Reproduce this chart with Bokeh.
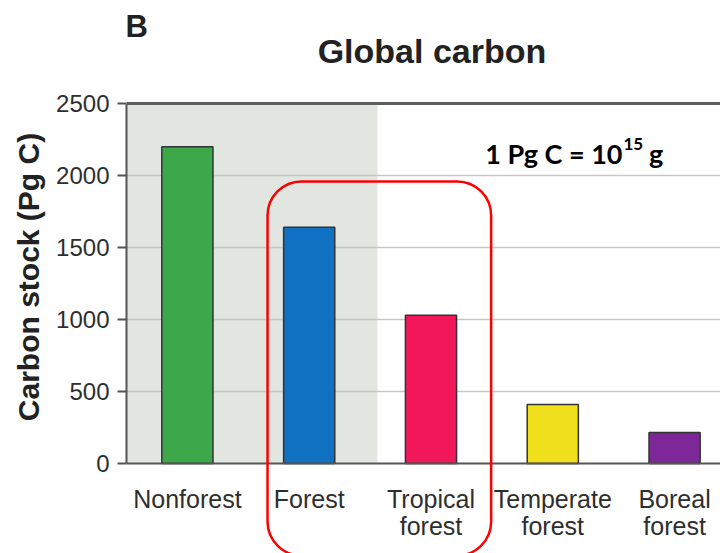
from bokeh.plotting import figure
from bokeh.models import BoxAnnotation, Label, LinearAxis, FixedTicker, Grid, Span
from bokeh.core.properties import value
from bokeh.embed import file_html
from bokeh.resources import INLINE

# Global carbon stocks (Pg C)
categories = ["Nonforest", "Forest", "Tropical\nforest", "Temperate\nforest", "Boreal\nforest"]
carbon_stock = [2200, 1640, 1030, 410, 215]
bar_colors = ["#3ca84a", "#1070c2", "#f2175b", "#f1e11c", "#7d2898"]
y_ticks = [0, 500, 1000, 1500, 2000, 2500]

positions = list(range(len(categories)))

SANS = "Liberation Sans"
NOTE_FONT = "Lato"
TEXT = "#2e2e2e"

# the frame fills the canvas right of the value axis; the value scale
# runs 0..2500 and the space above/below holds titles and category names
p = figure(width=720, height=553, title=None,
           x_range=(-0.5, 4.377), y_range=(-625, 3215),
           output_backend="svg", toolbar_location=None,
           min_border_left=126, min_border_right=0,
           min_border_top=0, min_border_bottom=0,
           x_axis_type=None, y_axis_type=None)
p.outline_line_color = None
p.background_fill_color = "white"
p.border_fill_color = "white"

# shaded backdrop behind the first two groups
p.add_layout(BoxAnnotation(left=-0.5, right=1.56, bottom=0, top=2500,
                           fill_color="#dce2dc", fill_alpha=0.85,
                           line_alpha=0, level="underlay"))

# value axis
yaxis = LinearAxis(ticker=FixedTicker(ticks=y_ticks), bounds=(0, 2500))
yaxis.axis_label = "Carbon stock (Pg C)"
yaxis.axis_label_text_font = SANS
yaxis.axis_label_text_font_style = "bold"
yaxis.axis_label_text_font_size = "30px"
yaxis.axis_label_text_color = "#222222"
yaxis.axis_label_standoff = 8
yaxis.major_label_text_font = SANS
yaxis.major_label_text_font_size = "24px"
yaxis.major_label_text_color = TEXT
yaxis.major_label_standoff = 8
yaxis.major_tick_out = 9
yaxis.major_tick_in = 0
yaxis.minor_tick_out = 0
yaxis.minor_tick_in = 0
yaxis.axis_line_color = "#555555"
yaxis.axis_line_width = 2
yaxis.major_tick_line_color = "#555555"
yaxis.major_tick_line_width = 2
p.add_layout(yaxis, "left")

# horizontal gridlines
p.add_layout(Grid(dimension=1, ticker=FixedTicker(ticks=y_ticks[1:-1]),
                  grid_line_color="#c4c8c4", grid_line_width=1.5))

# baseline and top rule of the plotting area
p.add_layout(Span(location=0, dimension="width",
                  line_color="#555555", line_width=2))
p.add_layout(Span(location=y_ticks[-1], dimension="width",
                  line_color="#5e5e5e", line_width=3))

# bars
p.vbar(x=positions, top=carbon_stock, width=0.42, bottom=0,
       fill_color=bar_colors, line_color="#333333", line_width=1.5)

# category names under the baseline
p.text(x=positions, y=[0] * len(positions), text=categories,
       y_offset=22, text_align="center", text_baseline="top",
       text_font=value(SANS), text_font_size="25px", text_color=TEXT,
       text_line_height=0.95)

# highlight around the forest groups
p.add_layout(BoxAnnotation(left=0.658, right=2.494, top=1958, bottom=-639,
                           fill_alpha=0, line_color="#ff0000", line_alpha=1,
                           line_width=2.5, border_radius=34, level="overlay"))

# panel letter, title and unit note
p.add_layout(Label(x=-0.508, y=3034, text="B", text_font=SANS,
                   text_font_style="bold", text_font_size="31px",
                   text_color="#222222", text_baseline="alphabetic"))
p.add_layout(Label(x=2.008, y=2861, text="Global carbon", text_font=SANS,
                   text_font_style="bold", text_font_size="34px",
                   text_color="#222222", text_align="center",
                   text_baseline="alphabetic"))
p.add_layout(Label(x=3.572, y=2153, text="1 Pg C = 10", text_font=NOTE_FONT,
                   text_font_style="bold", text_font_size="27px",
                   text_color="black", text_align="right",
                   text_baseline="alphabetic"))
p.add_layout(Label(x=3.58, y=2216, text="15", text_font=NOTE_FONT,
                   text_font_style="bold", text_font_size="17px",
                   text_color="black", text_align="left",
                   text_baseline="alphabetic"))
p.add_layout(Label(x=3.79, y=2153, text="g", text_font=NOTE_FONT,
                   text_font_style="bold", text_font_size="27px",
                   text_color="black", text_align="left",
                   text_baseline="alphabetic"))

open("out.html", "w").write(file_html(p, INLINE))
